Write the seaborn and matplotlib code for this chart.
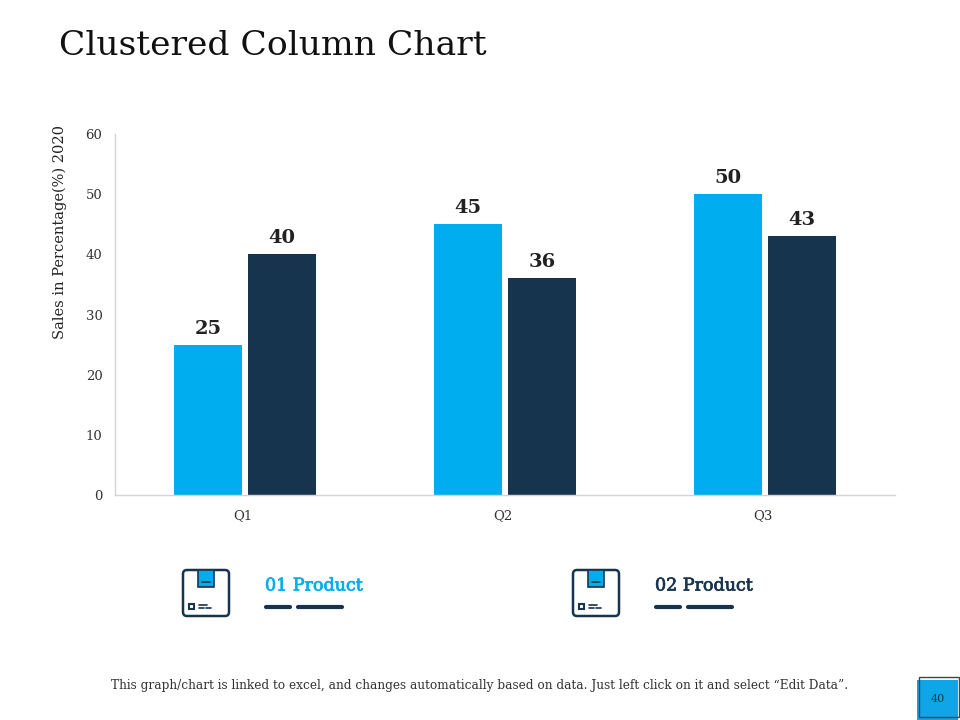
import matplotlib
matplotlib.use('Agg')
import matplotlib.pyplot as plt
import matplotlib.patheffects as pe
from matplotlib.patches import FancyBboxPatch, Rectangle
from matplotlib.transforms import ScaledTranslation
import pandas as pd
import seaborn as sns

quarters = ['Q1', 'Q2', 'Q3']
product_01 = [25, 45, 50]
product_02 = [40, 36, 43]
series_names = ['01 Product', '02 Product']
series_colors = ['#00AEEF', '#17344F']
y_ticks = [0, 10, 20, 30, 40, 50, 60]

title = 'Clustered Column Chart'
y_label = 'Sales in Percentage(%) 2020'
footer = ('This graph/chart is linked to excel, and changes automatically based on data. '
          'Just left click on it and select \u201cEdit Data\u201d.')
page_no = '40'

serif = 'DejaVu Serif'

sns.set_theme(style='white')
plt.rcParams['font.family'] = [serif]

df = pd.DataFrame({
    'quarter': quarters * 2,
    'value': product_01 + product_02,
    'series': [series_names[0]] * 3 + [series_names[1]] * 3,
})

fig = plt.figure(figsize=(9.6, 7.2), dpi=100, facecolor='white')
ax = fig.add_axes([115 / 960, 225 / 720, 780 / 960, 361 / 720])

sns.barplot(data=df, x='quarter', y='value', hue='series', palette=series_colors,
            width=0.569, gap=0.09, legend=False, ax=ax, saturation=1, linewidth=0)

for cont in ax.containers:
    ax.bar_label(cont, padding=5, fontsize=14, fontweight='bold', color='#222222')

ax.set_xlim(-0.5, 2.5)
ax.set_ylim(0, 60)
ax.set_yticks(y_ticks)
ax.set_xlabel('')
ax.set_ylabel('')
ax.tick_params(axis='y', length=0, pad=9, labelsize=9.5, labelcolor='#333333')
ax.tick_params(axis='x', length=0, pad=10, labelsize=9.5, labelcolor='#333333')
# reference tick labels sit a little left of the group centres
shift = ScaledTranslation(-2 / 100, 0, fig.dpi_scale_trans)
for lab in ax.get_xticklabels():
    lab.set_transform(lab.get_transform() + shift)
for side in ['top', 'right']:
    ax.spines[side].set_visible(False)
for side in ['left', 'bottom']:
    ax.spines[side].set_color('#D4D4D4')
    ax.spines[side].set_linewidth(1)

# overlay in pixel coords for title, legend icons, footer
ov = fig.add_axes([0, 0, 1, 1], zorder=5)
ov.set_xlim(0, 960)
ov.set_ylim(720, 0)
ov.axis('off')

ov.text(59, 46, title, fontsize=24.8, color='#111111', va='center')
ov.text(60, 232, y_label, fontsize=10.5, color='#222222', rotation=90, ha='center', va='center')


def product_key(x0, name, color):
    dark = series_colors[1]
    ov.add_patch(FancyBboxPatch((x0 + 3, 570), 46, 46, boxstyle='round,pad=0,rounding_size=4',
                                fc='white', ec=dark, lw=1.8))
    ov.add_patch(Rectangle((x0 + 18, 570), 16, 17, fc=series_colors[0], ec=dark, lw=1.2))
    ov.plot([x0 + 22, x0 + 30], [582, 582], color=dark, lw=1.2)
    ov.add_patch(Rectangle((x0 + 9, 604), 5, 5, fc='white', ec=dark, lw=1.5))
    ov.plot([x0 + 19, x0 + 27], [605, 605], color=dark, lw=1.2)
    ov.plot([x0 + 19, x0 + 24], [608, 608], color=dark, lw=1.2)
    ov.plot([x0 + 26, x0 + 31], [608, 608], color=dark, lw=1.2)
    txt = ov.text(x0 + 85, 586, name, fontsize=12.6, color=color, va='center')
    txt.set_path_effects([pe.withStroke(linewidth=0.5, foreground=color)])
    ov.plot([x0 + 86, x0 + 110], [607, 607], color=dark, lw=3, solid_capstyle='round')
    ov.plot([x0 + 118, x0 + 162], [607, 607], color=dark, lw=3, solid_capstyle='round')


product_key(180, series_names[0], series_colors[0])
product_key(570, series_names[1], series_colors[1])

ov.text(480, 686, footer, fontsize=8.7, color='#333333', ha='center', va='center')

ov.add_patch(Rectangle((917, 680), 41, 40, fc='#0FA5E9', ec='none'))
ov.add_patch(Rectangle((919, 677), 40, 40, fc='none', ec='#444444', lw=1))
ov.text(938, 699, page_no, fontsize=8, color='#17344F', ha='center', va='center')

fig.savefig('out.png', dpi=100)
